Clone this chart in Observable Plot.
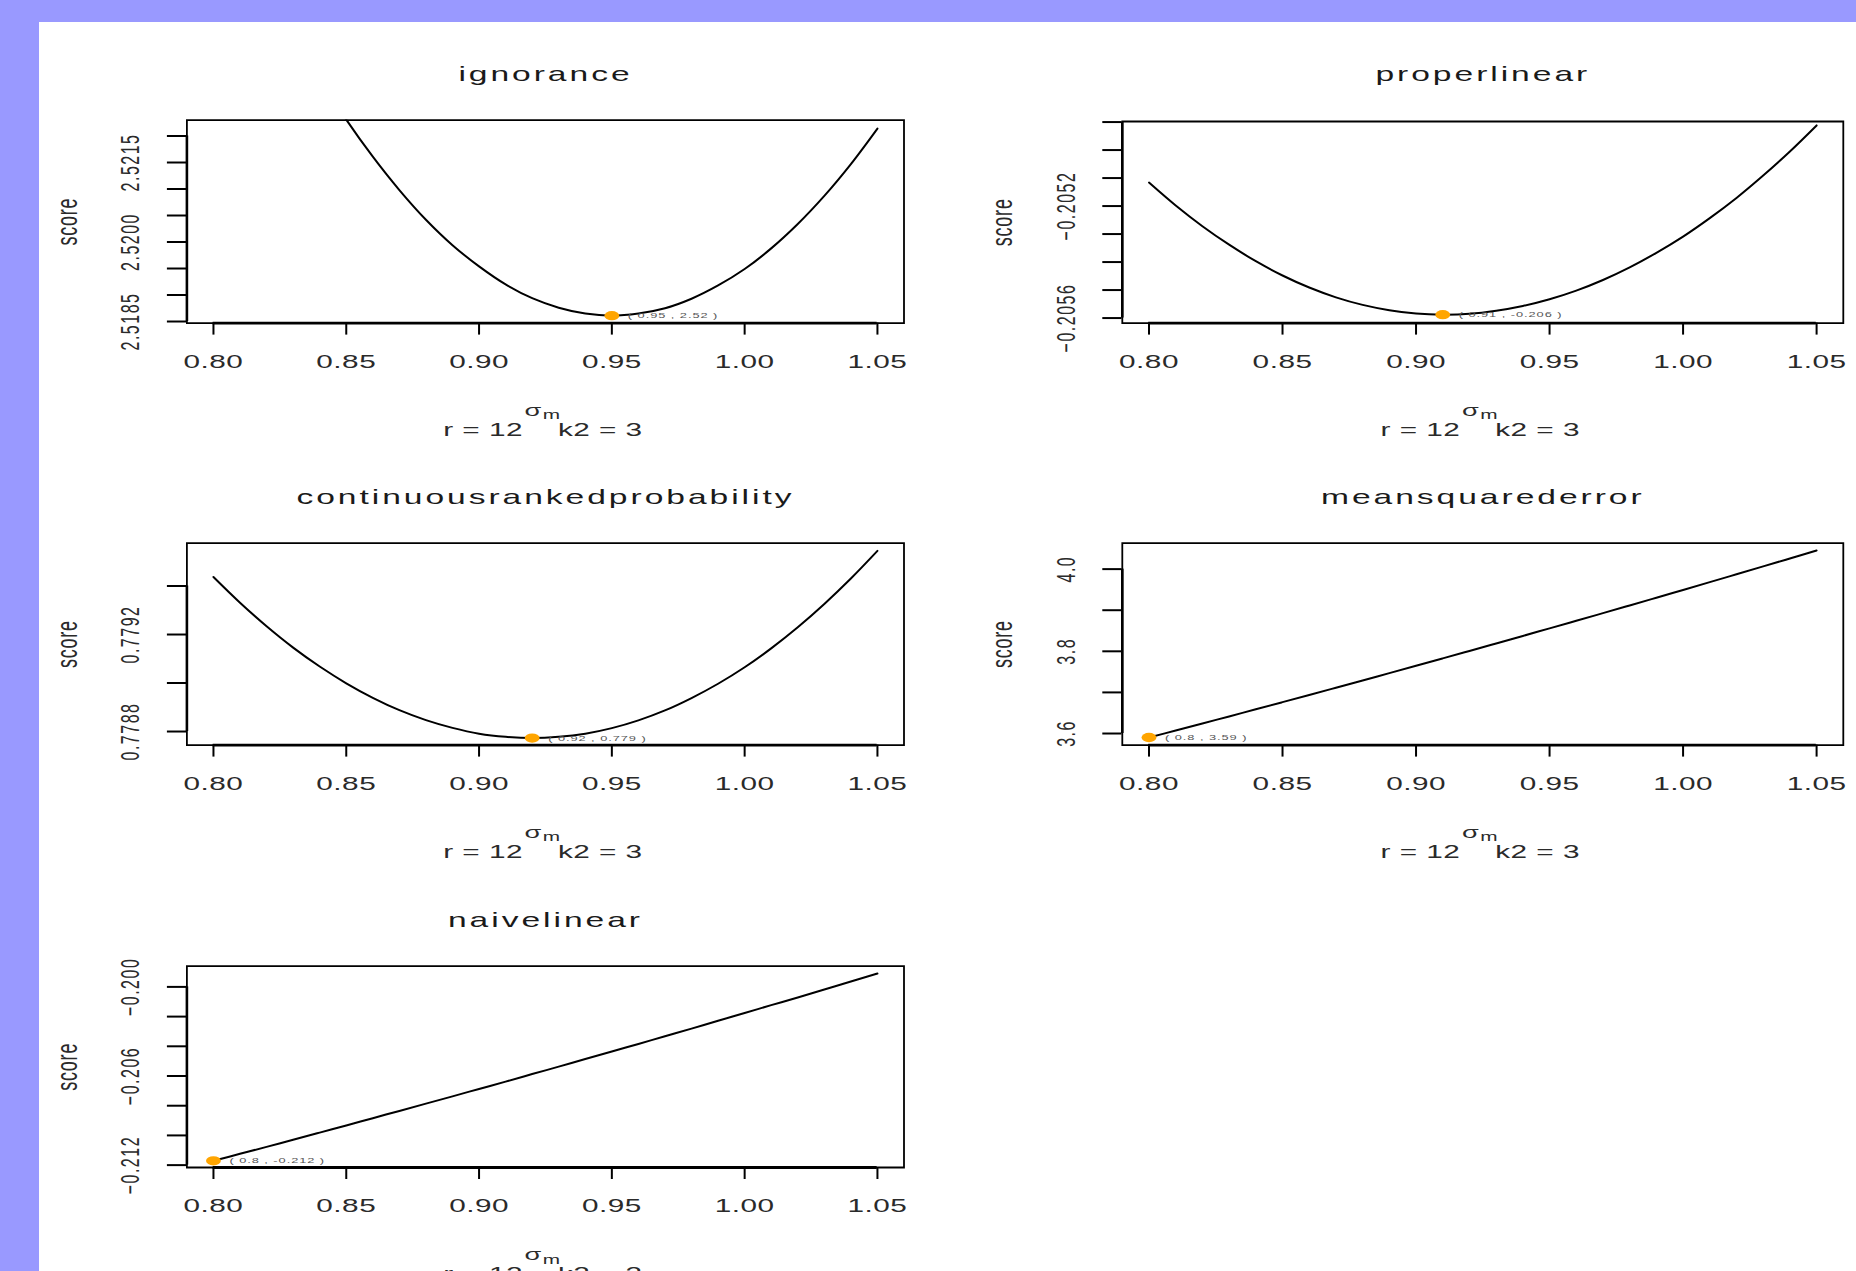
<!DOCTYPE html>
<html><head><meta charset="utf-8">
<script src="https://cdn.jsdelivr.net/npm/d3@7"></script>
<script src="https://cdn.jsdelivr.net/npm/@observablehq/plot@0.6"></script>
<style>
html,body{margin:0;padding:0;width:1856px;height:1271px;overflow:hidden;background:#9999ff;}
#sheet{position:absolute;left:38.5px;top:21.7px;right:0;bottom:0;background:#fff;}
svg.panel path, svg.panel line, svg.panel rect, svg.panel circle{vector-effect:non-scaling-stroke;}
</style></head><body><div id="sheet"></div>
<script>
// ---- data ----
const sigma = [0.80,0.81,0.82,0.83,0.84,0.85,0.86,0.87,0.88,0.89,0.90,0.91,0.92,0.93,0.94,0.95,0.96,0.97,0.98,0.99,1.00,1.01,1.02,1.03,1.04,1.05];
const ignorance = [2.52694,2.52586,2.52486,2.52394,2.52309,2.52231,2.52161,2.52098,2.52042,2.51994,2.51954,2.51920,2.51894,2.51876,2.51865,2.51861,2.51865,2.51875,2.51893,2.51918,2.51949,2.51988,2.52034,2.52087,2.52147,2.52214];
const properlinear = [-0.205116,-0.205198,-0.205272,-0.205338,-0.205397,-0.205448,-0.205491,-0.205526,-0.205553,-0.205572,-0.205584,-0.205588,-0.205585,-0.205574,-0.205557,-0.205533,-0.205502,-0.205464,-0.205419,-0.205367,-0.205309,-0.205243,-0.205171,-0.205091,-0.205005,-0.204912];
const crps = [0.779437,0.779331,0.779234,0.779146,0.779068,0.778999,0.778939,0.778888,0.778847,0.778815,0.778791,0.778778,0.778773,0.778778,0.778791,0.778814,0.778846,0.778887,0.778938,0.778997,0.779065,0.779143,0.779230,0.779326,0.779431,0.779545];
const mse = [3.5903,3.6073,3.6244,3.6416,3.6589,3.6763,3.6938,3.7114,3.7291,3.7469,3.7648,3.7828,3.8009,3.8191,3.8374,3.8558,3.8743,3.8929,3.9116,3.9304,3.9493,3.9683,3.9874,4.0066,4.0259,4.0453];
const naivelinear = [-0.21171,-0.21124,-0.21077,-0.21029,-0.20981,-0.20933,-0.20884,-0.20835,-0.20786,-0.20737,-0.20687,-0.20638,-0.20587,-0.20537,-0.20486,-0.20435,-0.20384,-0.20332,-0.20281,-0.20228,-0.20176,-0.20123,-0.20071,-0.20017,-0.19964,-0.19910];

const titles = ["ignorance","properlinear","continuousrankedprobability","meansquarederror","naivelinear"];
const series = [ignorance, properlinear, crps, mse, naivelinear];
const xTicks = [0.80,0.85,0.90,0.95,1.00,1.05];
const ignTicks = [2.5185,2.5190,2.5195,2.5200,2.5205,2.5210,2.5215,2.5220];
const ignLabels = [2.5185,2.5200,2.5215];
const plTicks = [-0.2056,-0.2055,-0.2054,-0.2053,-0.2052,-0.2051,-0.2050,-0.2049];
const plLabels = [-0.2056,-0.2052];
const crpsTicks = [0.7788,0.7790,0.7792,0.7794];
const crpsLabels = [0.7788,0.7792];
const mseTicks = [3.6,3.7,3.8,3.9,4.0];
const mseLabels = [3.6,3.8,4.0];
const nlTicks = [-0.212,-0.210,-0.208,-0.206,-0.204,-0.202,-0.200];
const nlLabels = [-0.212,-0.206,-0.200];
const yTicks = [ignTicks, plTicks, crpsTicks, mseTicks, nlTicks];
const yLabels = [ignLabels, plLabels, crpsLabels, mseLabels, nlLabels];
const digits = [4,4,4,1,3];
const xLabel = ["σ","m"];
const subText = "r = 12\u00a0\u00a0\u00a0\u00a0k2 = 3";
const yName = "score";

// ---- layout ----
const S = 1.6, COLW = 935, ROWH = 423, OX = 38.5, OY = 21.7;
const FONT = "'Liberation Sans', Arial, Helvetica, sans-serif";
const boxes = [
  {L:185.6,R:902.7,T:119.3,B:322.3},
  {L:1121,R:1842,T:120.7,B:322.3},
  {L:185.6,R:902.7,T:542.3,B:744.3},
  {L:1121,R:1842,T:542.3,B:744.3},
  {L:185.6,R:902.7,T:965.3,B:1166.7}
];
const yDomains = [[2.51847,2.52230],[-0.205618,-0.204898],[0.778744,0.779577],[3.5718,4.0633],[-0.21216,-0.1986]];

function makePanel(i) {
  const col = i % 2, row = Math.floor(i / 2);
  const X0 = OX + col * COLW, Y0 = OY + row * ROWH;
  const b = boxes[i];
  const mL = (b.L - X0) / S, mR = (X0 + COLW - b.R) / S, mT = b.T - Y0, mB = Y0 + ROWH - b.B;
  const data = sigma.map((s, j) => ({s, v: series[i][j]}));
  const best = data[d3.minIndex(series[i])];
  const fmtY = d => d.toFixed(digits[i]).replace("-", "\u2212");
  const yt = yTicks[i];
  const svg = Plot.plot({
    width: COLW / S, height: ROWH,
    marginLeft: mL, marginRight: mR, marginTop: mT, marginBottom: mB,
    x: {domain: [0.79, 1.06], axis: null},
    y: {domain: yDomains[i], axis: null},
    style: {fontFamily: FONT, background: "transparent", overflow: "visible", color: "black"},
    marks: [
      Plot.line(data, {x: "s", y: "v", stroke: "black", strokeWidth: 2, curve: "catmull-rom", clip: true}),
      Plot.frame({stroke: "black", strokeWidth: 1.8}),
      Plot.ruleY([yDomains[i][0]], {x1: xTicks[0], x2: xTicks[xTicks.length - 1], stroke: "black", strokeWidth: 2.8}),
      Plot.ruleX([0.79], {y1: yt[0], y2: yt[yt.length - 1], stroke: "black", strokeWidth: 2.6}),
      Plot.axisX(xTicks, {tickSize: 12, tickPadding: 19.3, fontSize: 18.6, tickFormat: d => d.toFixed(2), label: null, stroke: "black", strokeWidth: 2, fill: "#2a2a2a"}),
      Plot.axisY(yt, {tickSize: 12, tickFormat: () => "", label: null, stroke: "black", strokeWidth: 2}),
      Plot.text(yLabels[i], {y: d => d, text: fmtY, frameAnchor: "left", textAnchor: "middle", dx: -35, rotate: -90, fontSize: 16, fill: "#2a2a2a", ariaDescription: "ylab"}),
      Plot.text([yName], {frameAnchor: "left", textAnchor: "middle", dx: -74.75, rotate: -90, fontSize: 18, fill: "#2a2a2a", ariaDescription: "score"}),
      Plot.text([titles[i]], {frameAnchor: "top", dy: 58.3 - mT, lineAnchor: "bottom", fontSize: 21, fill: "#1a1a1a", ariaDescription: "ptitle"}),
      Plot.text([xLabel[0]], {frameAnchor: "bottom", dx: -7.8, dy: 92.8, lineAnchor: "bottom", fontSize: 17, fill: "#2a2a2a"}),
      Plot.text([xLabel[1]], {frameAnchor: "bottom", dx: 3.8, dy: 96, lineAnchor: "bottom", fontSize: 13, fill: "#2a2a2a"}),
      Plot.text([subText], {frameAnchor: "bottom", dx: -1.6, dy: 112.7, lineAnchor: "bottom", fontSize: 18.6, fill: "#2a2a2a", ariaDescription: "sub"}),
      Plot.dot([best], {x: "s", y: "v", r: 4.65, fill: "#FFA500"}),
      Plot.text([best], {x: "s", y: "v", text: d => `( ${d.s} , ${+d.v.toPrecision(3)} )`, dx: 10, textAnchor: "start", fontSize: 8, fill: "#555", ariaDescription: "bestlab"})
    ]
  });
  const sel = d3.select(svg);
  const ls = (desc, v) => sel.selectAll(`g[aria-description="${desc}"] text`).style("letter-spacing", v);
  ls("ptitle", "1.85px");
  ls("ylab", "1.5px");
  ls("score", "0.8px");
  ls("sub", "0.3px");
  ls("bestlab", "0.6px");
  sel.selectAll('g[aria-label="x-axis tick label"] text').style("letter-spacing", "0.3px");
  svg.classList.add("panel");
  svg.setAttribute("width", COLW);
  svg.setAttribute("height", ROWH);
  svg.setAttribute("preserveAspectRatio", "none");
  svg.style.position = "absolute";
  svg.style.left = X0 + "px";
  svg.style.top = Y0 + "px";
  svg.style.width = COLW + "px";
  svg.style.height = ROWH + "px";
  svg.style.maxWidth = "none";
  document.body.appendChild(svg);
}
for (let i = 0; i < 5; i++) makePanel(i);
</script>
</body></html>
